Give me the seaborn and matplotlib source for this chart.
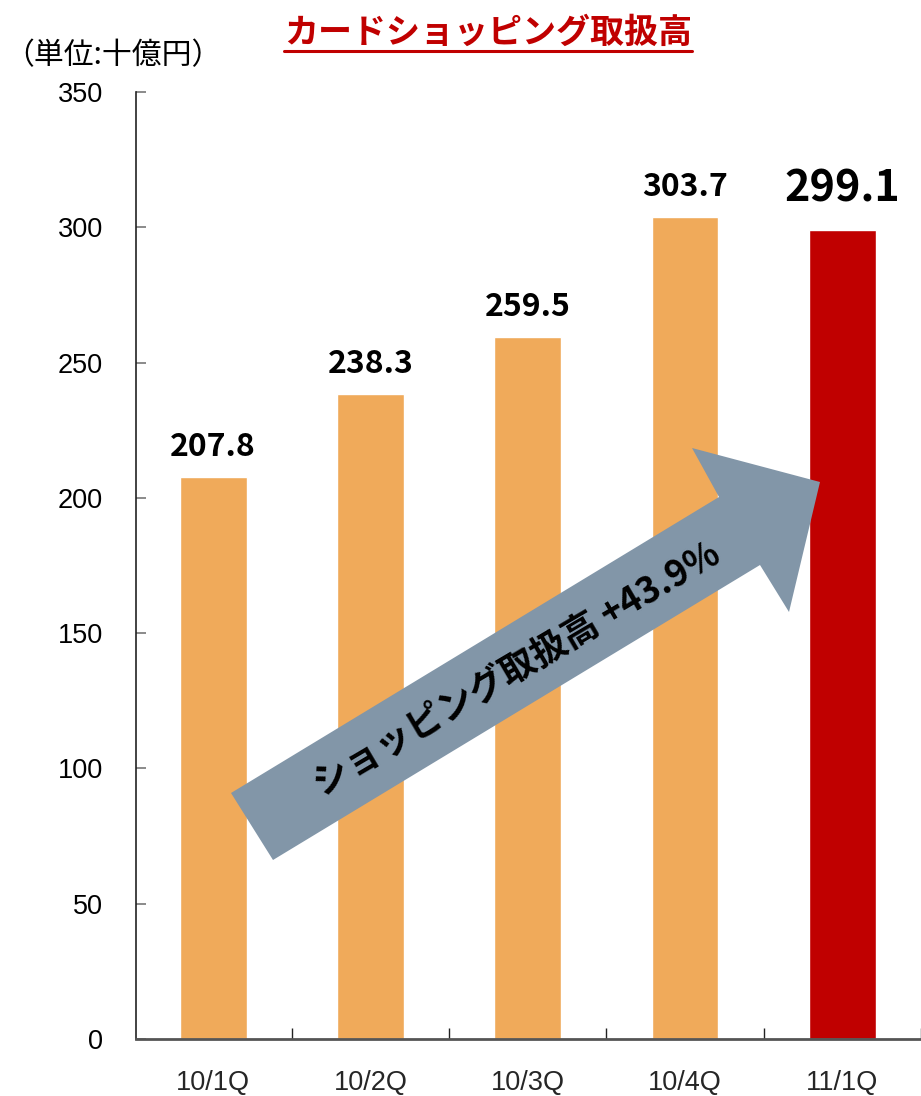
import numpy as np
import pandas as pd
import seaborn as sns
import matplotlib.pyplot as plt
from matplotlib.patches import Polygon
from matplotlib.lines import Line2D

# data
quarters = ["10/1Q", "10/2Q", "10/3Q", "10/4Q", "11/1Q"]
amounts = [207.8, 238.3, 259.5, 303.7, 299.1]
bar_colors = ["#F0AA5A", "#F0AA5A", "#F0AA5A", "#F0AA5A", "#C00000"]
y_ticks = [0, 50, 100, 150, 200, 250, 300, 350]
title_text = "カードショッピング取扱高"
unit_text = "（単位:十億円）"
arrow_text = "ショッピング取扱高 +43.9%"

sns.set_theme(style="white")
plt.rcParams["font.family"] = ["Noto Sans CJK JP", "DejaVu Sans"]

W, H = 921, 1096
fig = plt.figure(figsize=(W / 100, H / 100), dpi=100)
ax = fig.add_axes([136 / W, 1 - 1039 / H, (W - 136) / W, (1039 - 92) / H])

df = pd.DataFrame({"quarter": quarters, "amount": amounts})
sns.barplot(data=df, x="quarter", y="amount", hue="quarter", palette=bar_colors,
            legend=False, width=0.425, saturation=1, ax=ax)

ax.set_xlim(-0.49, 4.49)
ax.set_ylim(0, 350)
ax.set_yticks(y_ticks)
ax.set_xlabel("")
ax.set_ylabel("")

for s in ["top", "right"]:
    ax.spines[s].set_visible(False)
ax.spines["left"].set_color("#222222")
ax.spines["left"].set_linewidth(1.2)
ax.spines["bottom"].set_color("#555555")
ax.spines["bottom"].set_linewidth(2.0)

ax.tick_params(axis="y", direction="in", length=7, width=1.2, color="#777777",
               pad=24, labelsize=19.5, labelcolor="black", left=True)
ax.tick_params(axis="x", which="major", length=0, pad=22, labelsize=19.5)
ax.set_xticks(np.arange(len(quarters)) + 0.5, minor=True)
ax.tick_params(axis="x", which="minor", direction="in", length=8, width=1.0,
               color="#222222", bottom=True)
for lab in ax.get_yticklabels() + ax.get_xticklabels():
    lab.set_family(["Liberation Sans", "DejaVu Sans"])

# value labels
for i, v in enumerate(amounts):
    last = i == len(amounts) - 1
    ax.annotate(f"{v:.1f}", (i, v), xytext=(0, 14 if last else 10),
                textcoords="offset points", ha="center", va="bottom",
                fontsize=31 if last else 23, fontweight="bold", color="black")

# trend arrow (figure pixel coords, y from top)
arrow_px = [(231, 793), (719, 497), (692, 448), (820, 482),
            (789, 612), (760, 565), (273, 860)]
pts = [(x / W, 1 - y / H) for x, y in arrow_px]
fig.patches.append(Polygon(pts, closed=True, transform=fig.transFigure,
                           facecolor="#8296A8", edgecolor="none", zorder=5))
fig.text(517 / W, 1 - 670 / H, arrow_text, rotation=30.5, rotation_mode="anchor",
         ha="center", va="center", fontsize=26, fontweight="bold", color="black",
         zorder=6)

# title and unit
t = fig.text(488 / W, 1 - 32 / H, title_text, ha="center", va="center",
             fontsize=24.5, fontweight="bold", color="#C00000")
fig.text(4 / W, 1 - 56 / H, unit_text, ha="left", va="center", fontsize=21.5,
         color="black")

fig.canvas.draw()
bb = t.get_window_extent()
uy = (bb.y0 - 1) / H
fig.add_artist(Line2D([bb.x0 / W, bb.x1 / W], [uy, uy], transform=fig.transFigure,
                      color="#C00000", linewidth=2.2))

fig.savefig("out.png", dpi=100)
